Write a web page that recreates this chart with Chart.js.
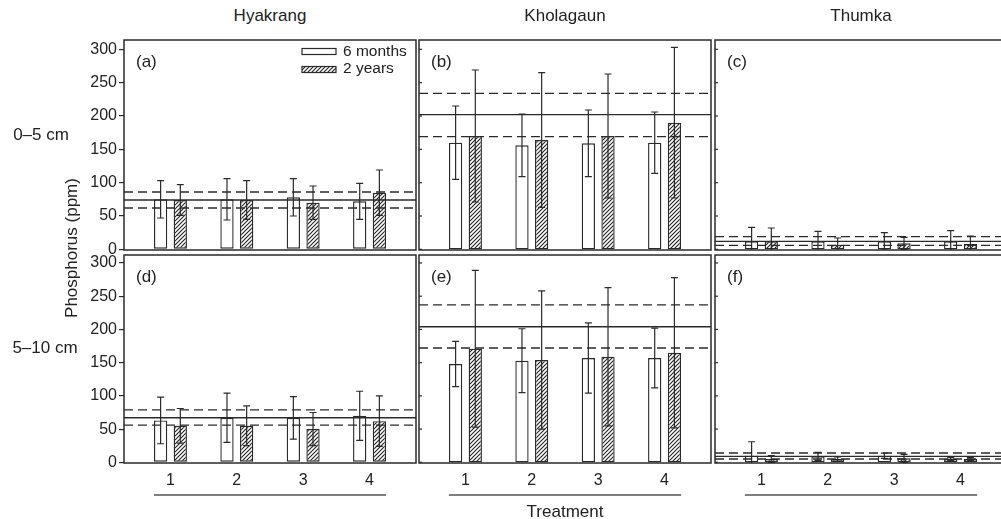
<!DOCTYPE html>
<html>
<head>
<meta charset="utf-8">
<script src="https://cdn.jsdelivr.net/npm/chart.js@4.4.1/dist/chart.umd.min.js"></script>
<style>
  html, body { margin: 0; padding: 0; background: #fff; }
  body { width: 1001px; height: 519px; overflow: hidden; position: relative;
         font-family: "Liberation Sans", Arial, sans-serif; color: #222; }
  .lbl { position: absolute; font-size: 17px; line-height: 1; white-space: nowrap;
         transform: translate(-50%, -50%); }
  .rot { transform: translate(-50%, -50%) rotate(-90deg); }
</style>
</head>
<body>
<script>
// ---- data -------------------------------------------------------------
const treatments = [1, 2, 3, 4];
const yTicks = [0, 50, 100, 150, 200, 250, 300];
const sites = ['Hyakrang', 'Kholagaun', 'Thumka'];
const depths = ['0–5 cm', '5–10 cm'];
const seriesNames = ['6 months', '2 years'];
const panelTags = ['(a)', '(b)', '(c)', '(d)', '(e)', '(f)'];

// Hyakrang 0–5 cm: means and ± spread per treatment
const hyak05_6m = [75, 75, 78, 72];
const hyak05_6m_sd = [28, 31, 28, 27];
const hyak05_2y = [74, 74, 70, 85];
const hyak05_2y_sd = [23, 29, 25, 34];
const hyak05_ref = [62, 74, 86];   // lower bound, reference mean, upper bound

// Kholagaun 0–5 cm
const khol05_6m = [160, 156, 159, 160];
const khol05_6m_sd = [55, 47, 50, 46];
const khol05_2y = [170, 164, 170, 190];
const khol05_2y_sd = [99, 101, 93, 113];
const khol05_ref = [169, 202, 234];

// Thumka 0–5 cm
const thum05_6m = [12, 12, 12, 12];
const thum05_6m_sd = [21, 15, 13, 16];
const thum05_2y = [12, 7, 9, 8];
const thum05_2y_sd = [20, 10, 9, 12];
const thum05_ref = [6, 12, 19];

// Hyakrang 5–10 cm
const hyak510_6m = [63, 67, 67, 70];
const hyak510_6m_sd = [35, 37, 32, 37];
const hyak510_2y = [55, 55, 50, 62];
const hyak510_2y_sd = [26, 30, 25, 38];
const hyak510_ref = [56, 67, 79];

// Kholagaun 5–10 cm
const khol510_6m = [148, 153, 157, 157];
const khol510_6m_sd = [34, 48, 53, 45];
const khol510_2y = [171, 154, 159, 165];
const khol510_2y_sd = [118, 104, 104, 113];
const khol510_ref = [172, 204, 237];

// Thumka 5–10 cm
const thum510_6m = [10, 9, 10, 5];
const thum510_6m_sd = [21, 6, 4, 2];
const thum510_2y = [5, 5, 6, 5];
const thum510_2y_sd = [5, 3, 6, 2];
const thum510_ref = [5, 9, 14];

// ---- layout & style ---------------------------------------------------
const FONT = '"Liberation Sans", Arial, sans-serif';
const INK = '#2a2a2a';
const colLeft = [124, 419, 715];
const rowTop = [40, 255];
const areaW = 292;
const areaH = [210, 208];
const yRange = [[-1, 314], [-1, 312]];
const yAxisW = 44;
const xAxisH = 40;
const pad = 14;

const panels = [
  { row: 0, col: 0, m6: hyak05_6m, s6: hyak05_6m_sd, m2: hyak05_2y, s2: hyak05_2y_sd, ref: hyak05_ref },
  { row: 0, col: 1, m6: khol05_6m, s6: khol05_6m_sd, m2: khol05_2y, s2: khol05_2y_sd, ref: khol05_ref },
  { row: 0, col: 2, m6: thum05_6m, s6: thum05_6m_sd, m2: thum05_2y, s2: thum05_2y_sd, ref: thum05_ref },
  { row: 1, col: 0, m6: hyak510_6m, s6: hyak510_6m_sd, m2: hyak510_2y, s2: hyak510_2y_sd, ref: hyak510_ref },
  { row: 1, col: 1, m6: khol510_6m, s6: khol510_6m_sd, m2: khol510_2y, s2: khol510_2y_sd, ref: khol510_ref },
  { row: 1, col: 2, m6: thum510_6m, s6: thum510_6m_sd, m2: thum510_2y, s2: thum510_2y_sd, ref: thum510_ref }
];

// diagonal hatch fill for the 2-year bars
const hatch = (() => {
  const c = document.createElement('canvas');
  c.width = 4; c.height = 4;
  const g = c.getContext('2d');
  g.fillStyle = '#fff'; g.fillRect(0, 0, 4, 4);
  g.strokeStyle = '#222'; g.lineWidth = 1.1;
  g.beginPath();
  g.moveTo(0, 4); g.lineTo(4, 0);
  g.moveTo(-1, 1); g.lineTo(1, -1);
  g.moveTo(3, 5); g.lineTo(5, 3);
  g.stroke();
  return g.createPattern(c, 'repeat');
})();

// reference band, error bars, frame, panel tag, legend, treatment rule
const decor = {
  id: 'decor',
  afterDatasetsDraw(chart, args, o) {
    const { ctx, chartArea: a, scales: { x, y } } = chart;
    const p = o.panel;
    ctx.save();
    ctx.beginPath();
    ctx.rect(a.left, a.top, a.right - a.left, a.bottom - a.top);
    ctx.clip();

    ctx.strokeStyle = INK;
    ctx.lineWidth = 1.4;
    p.ref.forEach((v, k) => {
      ctx.setLineDash(k === 1 ? [] : [9, 5]);
      const yy = y.getPixelForValue(v);
      ctx.beginPath(); ctx.moveTo(a.left, yy); ctx.lineTo(a.right, yy); ctx.stroke();
    });
    ctx.setLineDash([]);

    ctx.lineWidth = 1.2;
    [[p.m6, p.s6], [p.m2, p.s2]].forEach(([m, s], di) => {
      chart.getDatasetMeta(di).data.forEach((bar, j) => {
        const hi = y.getPixelForValue(m[j] + s[j]);
        const lo = y.getPixelForValue(m[j] - s[j]);
        ctx.beginPath();
        ctx.moveTo(bar.x, hi); ctx.lineTo(bar.x, lo);
        ctx.moveTo(bar.x - 3.5, hi); ctx.lineTo(bar.x + 3.5, hi);
        ctx.moveTo(bar.x - 3.5, lo); ctx.lineTo(bar.x + 3.5, lo);
        ctx.stroke();
      });
    });
    ctx.restore();

    ctx.save();
    ctx.strokeStyle = INK;
    ctx.lineWidth = 1.5;
    ctx.strokeRect(a.left, a.top, a.right - a.left, a.bottom - a.top);

    if (p.col > 0) {
      ctx.lineWidth = 1.2;
      yTicks.forEach(v => {
        const yy = y.getPixelForValue(v);
        ctx.beginPath(); ctx.moveTo(a.left, yy); ctx.lineTo(a.left + 3, yy); ctx.stroke();
      });
    }

    ctx.fillStyle = '#222';
    ctx.font = '17px ' + FONT;
    ctx.textBaseline = 'middle';
    ctx.textAlign = 'left';
    ctx.fillText(panelTags[p.row * 3 + p.col], a.left + 12, a.top + 22);

    if (p.row === 0 && p.col === 0) {
      ctx.font = '15.5px ' + FONT;
      const bx = a.right - 114, tx = a.right - 73;
      ctx.lineWidth = 1.2;
      ctx.fillStyle = '#fff';
      ctx.fillRect(bx, a.top + 8.5, 34, 6);
      ctx.strokeRect(bx, a.top + 8.5, 34, 6);
      ctx.fillStyle = hatch;
      ctx.fillRect(bx, a.top + 26.5, 34, 6);
      ctx.strokeRect(bx, a.top + 26.5, 34, 6);
      ctx.fillStyle = '#222';
      ctx.fillText(seriesNames[0], tx, a.top + 11.5);
      ctx.fillText(seriesNames[1], tx, a.top + 28.5);
    }

    if (p.row === 1) {
      ctx.strokeStyle = '#555';
      ctx.lineWidth = 1.5;
      const ly = a.bottom + 32;
      ctx.beginPath();
      ctx.moveTo(x.getPixelForValue(0.75), ly);
      ctx.lineTo(x.getPixelForValue(4.25), ly);
      ctx.stroke();
    }
    ctx.restore();
  }
};

panels.forEach(p => {
  const leftCol = p.col === 0;
  const bottomRow = p.row === 1;
  const w = areaW + 2 * pad + (leftCol ? yAxisW : 0);
  const h = areaH[p.row] + 2 * pad + (bottomRow ? xAxisH : 0);
  const cv = document.createElement('canvas');
  cv.width = w; cv.height = h;
  cv.style.cssText = `position:absolute;left:${colLeft[p.col] - pad - (leftCol ? yAxisW : 0)}px;` +
                     `top:${rowTop[p.row] - pad}px;width:${w}px;height:${h}px;`;
  document.body.appendChild(cv);

  const barStyle = {
    borderColor: INK, borderWidth: 1.4, borderSkipped: false,
    categoryPercentage: 0.593, barPercentage: 0.675
  };

  const xScale = {
    type: 'linear', min: 0.3, max: 4.7, offset: false, display: bottomRow,
    afterBuildTicks: s => { s.ticks = treatments.map(v => ({ value: v })); },
    ticks: { color: '#222', font: { size: 16, family: FONT }, padding: 8 },
    grid: { display: false, drawTicks: false, offset: false },
    border: { display: false }
  };
  if (bottomRow) xScale.afterFit = s => { s.height = xAxisH; };

  const yScale = {
    type: 'linear', min: yRange[p.row][0], max: yRange[p.row][1], display: leftCol,
    afterBuildTicks: s => { s.ticks = yTicks.map(v => ({ value: v })); },
    ticks: { color: '#222', font: { size: 16, family: FONT }, padding: 2 },
    grid: { drawOnChartArea: false, drawTicks: true, tickLength: 5, color: INK, lineWidth: 1.2 },
    border: { display: false }
  };
  if (leftCol) yScale.afterFit = s => { s.width = yAxisW; };

  new Chart(cv, {
    type: 'bar',
    data: {
      datasets: [
        Object.assign({ label: seriesNames[0], backgroundColor: '#fff',
          data: treatments.map((t, i) => ({ x: t, y: p.m6[i] })) }, barStyle),
        Object.assign({ label: seriesNames[1], backgroundColor: hatch,
          data: treatments.map((t, i) => ({ x: t, y: p.m2[i] })) }, barStyle)
      ]
    },
    options: {
      responsive: false,
      animation: false,
      devicePixelRatio: 1,
      layout: { padding: { left: pad, right: pad, top: pad, bottom: pad } },
      plugins: { legend: { display: false }, tooltip: { enabled: false }, decor: { panel: p } },
      scales: { x: xScale, y: yScale }
    },
    plugins: [decor]
  });
});

// ---- surrounding labels ----------------------------------------------
function addLabel(text, cx, cy, cls) {
  const d = document.createElement('div');
  d.className = 'lbl' + (cls ? ' ' + cls : '');
  d.textContent = text;
  d.style.left = cx + 'px';
  d.style.top = cy + 'px';
  document.body.appendChild(d);
}
sites.forEach((s, i) => addLabel(s, colLeft[i] + areaW / 2, 15));
addLabel(depths[0], 41, 134);
addLabel(depths[1], 45, 347);
addLabel('Phosphorus (ppm)', 71, 248, 'rot');
addLabel('Treatment', 565, 511);
</script>
</body>
</html>
